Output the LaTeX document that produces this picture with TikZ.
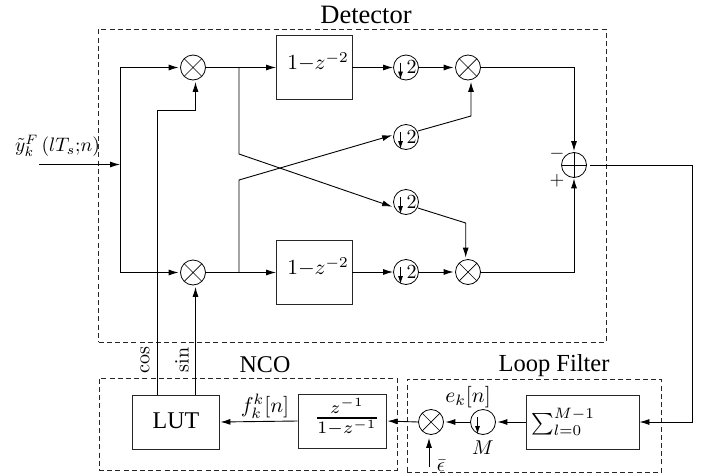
\documentclass[tikz,border=0pt]{standalone}
\usepackage[no-math]{fontspec}
\setmainfont{Liberation Serif}
\usetikzlibrary{arrows.meta}
\tikzset{
  wire/.style={line width=0.9pt,draw=black},
  arr/.style={wire,-{Latex[length=10pt,width=6pt]}},
  dbox/.style={draw=black!85,line width=0.8pt,dash pattern=on 5pt off 3.2pt,fill=none},
  blockbox/.style={draw=black!85,line width=0.9pt,inner sep=0pt,fill=none},
  mixer/.style={circle,draw=black,line width=0.8pt,minimum size=25pt,inner sep=0pt,
    path picture={\draw[line width=0.7pt] (path picture bounding box.north west)--(path picture bounding box.south east)
      (path picture bounding box.north east)--(path picture bounding box.south west);}},
  adder/.style={circle,draw=black,line width=0.8pt,minimum size=25pt,inner sep=0pt,
    path picture={\draw[line width=0.7pt] (path picture bounding box.north)--(path picture bounding box.south)
      (path picture bounding box.east)--(path picture bounding box.west);}},
  downs/.style={circle,draw=black,line width=0.8pt,minimum size=25pt,inner sep=0pt,
    path picture={\draw[line width=0.8pt,-{Latex[length=8pt,width=5pt]}]
      ([xshift=-5.5pt,yshift=5pt]path picture bounding box.center)--([xshift=-5.5pt,yshift=-12pt]path picture bounding box.center);}},
  two/.style={label={[scale=2,xshift=2.8pt]center:$2$}},
  lab/.style={inner sep=0pt,scale=#1},
  lab/.default=2
}
\begin{document}
\begin{tikzpicture}[x=1pt,y=-1pt]
\useasboundingbox (0,0) rectangle (717,474);
% dashed groups
\node[dbox,minimum width=507.5pt,minimum height=313pt,inner sep=0pt] (det) at (352.25,185.5) {};
\node[dbox,minimum width=298pt,minimum height=92pt,inner sep=0pt] (nco) at (248,424) {};
\node[dbox,minimum width=254pt,minimum height=93.5pt,inner sep=0pt] (lf) at (534,426) {};
\node[lab=2.65] (detl) at (366,15) {Detector};
\node[lab=2.4] (ncol) at (265,365) {NCO};
\node[lab=2.45] (lfl) at (554,366) {Loop Filter};
% blocks
\node[mixer] (m1) at (193,67.5) {};
\node[mixer] (m2) at (468,67.5) {};
\node[mixer] (m3) at (193,272.5) {};
\node[mixer] (m4) at (468,272) {};
\node[mixer] (m5) at (431,422) {};
\node[adder] (add) at (574,165) {};
\node[downs,two] (d1) at (406,67.5) {};
\node[downs,two] (d2) at (406,137) {};
\node[downs,two] (d3) at (406,202) {};
\node[downs,two] (d4) at (406,272) {};
\node[downs] (dm) at (483,422) {};
\node[blockbox,minimum width=75.5pt,minimum height=64.5pt] (h1) at (314.25,67.25) {};
\node[blockbox,minimum width=75.5pt,minimum height=64.5pt] (h2) at (314.25,272.25) {};
\node[lab=2.15] (h1t) at (318,62) {$1{-}z^{-2}$};
\node[lab=2.15] (h2t) at (318,267) {$1{-}z^{-2}$};
\node[blockbox,minimum width=87pt,minimum height=54pt] (lut) at (175.5,422) {};
\node[lab=2.4] (lutt) at (176,421) {LUT};
\node[blockbox,minimum width=88pt,minimum height=54pt] (zb) at (342,421) {};
\node[lab=2.5] (zbt) at (347,417) {${z^{-1}\above 0.8pt 1{-}z^{-1}}$};
\node[blockbox,minimum width=113pt,minimum height=54pt] (sb) at (582.5,422) {};
\node[lab=2.15] (sbt) at (563,422) {$\sum_{l=0}^{M-1}$};
% labels
\node[lab=1.95] (yl) at (57.5,146) {$\tilde y_k^F\,(lT_s{;}n)$};
\node[lab=2,rotate=90] (cosl) at (145,360) {$\cos$};
\node[lab=2,rotate=90] (sinl) at (182,360) {$\sin$};
\node[lab=2.15] (fl) at (265,406) {$f_k^k[n]$};
\node[lab=2.15] (el) at (468,397) {$e_k[n]$};
\node[lab=2] (ml) at (483,448) {$M$};
\node[lab=2] (epsl) at (441,465.5) {$\bar\epsilon$};
\node[lab=1.9] (minusl) at (557,154) {$-$};
\node[lab=1.9] (plusl) at (557,181) {$+$};
% junctions
\coordinate (in0) at (39,164.5);
\coordinate (split) at (120,164.5);
\coordinate (top) at (120,67.5);
\coordinate (bot) at (120,272.5);
\coordinate (jt) at (239,67.5);
\coordinate (jb) at (239,272.5);
\coordinate (xa) at (239,154);
\coordinate (xb) at (239,180);
\coordinate (bend1) at (195.5,110);
\coordinate (cosb) at (157.5,110);
\coordinate (bend2) at (471,116);
\coordinate (bend3) at (465.7,223);
\coordinate (corner) at (692,165);
\coordinate (corner2) at (692,422);
\coordinate (epsb) at (429,467);
% wires
\draw[arr] (in0) -- (split);
\draw[wire] (top) -- (bot);
\draw[arr,shorten >=1.5pt] (top) -- (m1.west);
\draw[arr,shorten >=1.5pt] (bot) -- (m3.west);
\draw[arr] (m1.east) -- (h1.west |- m1.east);
\draw[arr] (m3.east) -- (h2.west |- m3.east);
\draw[arr,shorten >=1pt] (jt) -- (xa) -- ([yshift=-5pt]d3.west);
\draw[arr,shorten >=1pt] (jb) -- (xb) -- ([yshift=2pt]d2.west);
\draw[arr] (h1.east |- d1) -- (d1.west);
\draw[arr] (h2.east |- d4) -- (d4.west);
\draw[arr,shorten >=1.5pt] (d1.east) -- (m2.west);
\draw[arr,shorten >=1.5pt] (d4.east) -- (m4.west);
\draw[arr,shorten >=1.5pt] ([yshift=6pt,xshift=-1pt]d2.east) -- (bend2) -- (bend2 |- m2.south);
\draw[arr,shorten >=1.5pt] ([yshift=-6pt,xshift=-1pt]d3.east) -- (bend3) -- (bend3 |- m4.north);
\draw[arr,shorten >=1pt] (m2.east) -- (add.north |- m2.east) -- (add.north);
\draw[arr,shorten >=0.5pt] (m4.east) -- (add.south |- m4.east) -- (add.south);
\draw[arr] ([xshift=3pt]add.east) -- (corner) -- (corner2) -- (sb.east);
\draw[arr,shorten >=1.5pt] (sb.west) -- (dm.east);
\draw[arr,shorten >=1.5pt] (dm.west) -- (m5.east);
\draw[arr,shorten >=1pt] (m5.west) -- (zb.east);
\draw[arr,shorten >=1pt] (zb.west) -- (lut.east);
\draw[arr,shorten >=3pt] (epsb) -- (epsb |- m5.south);
\draw[arr,shorten >=1.5pt] (lut.north -| bend1) -- (bend1 |- m3.south);
\draw[arr,shorten >=1.5pt] (lut.north -| cosb) -- (cosb) -- (bend1) -- (bend1 |- m1.south);
\end{tikzpicture}
\end{document}
